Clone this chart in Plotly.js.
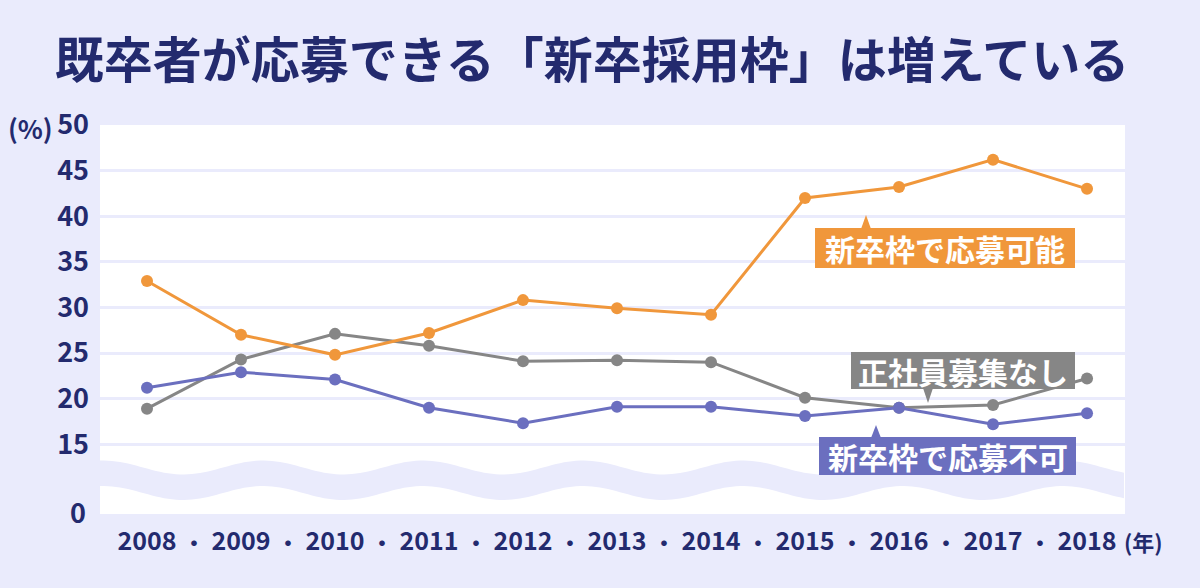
<!DOCTYPE html>
<html>
<head>
<meta charset="utf-8">
<script src="https://cdn.plot.ly/plotly-3.0.1.min.js"></script>
<style>
  html, body { margin: 0; padding: 0; background: #eaebfc; }
  #chart { width: 1200px; height: 588px; }
</style>
</head>
<body>
<div id="chart"></div>
<script>
// Survey years
const years = [2008, 2009, 2010, 2011, 2012, 2013, 2014, 2015, 2016, 2017, 2018];
const yearLabels = ['2008', '2009', '2010', '2011', '2012', '2013', '2014', '2015', '2016', '2017', '2018'];

// Share of companies (%)
const canApplyNewGrad = [32.9, 27.0, 24.8, 27.2, 30.8, 29.9, 29.2, 42.0, 43.2, 46.2, 43.0];   // 新卒枠で応募可能
const noRegularHiring = [18.9, 24.3, 27.1, 25.8, 24.1, 24.2, 24.0, 20.1, 19.0, 19.3, 22.2];   // 正社員募集なし
const cannotApplyNewGrad = [21.2, 22.9, 22.1, 19.0, 17.3, 19.1, 19.1, 18.1, 19.0, 17.2, 18.4]; // 新卒枠で応募不可

// Y axis ticks (the axis is broken between 0 and 15)
const yTicks = [15, 20, 25, 30, 35, 40, 45, 50];
const yTickText = ['15', '20', '25', '30', '35', '40', '45', '50'];

const seriesNames = ['新卒枠で応募可能', '正社員募集なし', '新卒枠で応募不可'];

const NAVY = '#232a6e';
const BG = '#eaebfc';
const ORANGE = '#f0973b';
const GRAY = '#868686';
const BLUE = '#6b6fbf';
const FONT = '"Noto Sans CJK JP", "Noto Sans", sans-serif';

// Plot box in page pixels
const M = { l: 100, r: 75, t: 125, b: 74 };
const W = 1200, H = 588;
const PW = W - M.l - M.r, PH = H - M.t - M.b;
const px = x => (x - M.l) / PW;            // page x -> paper x
const py = y => (H - M.b - y) / PH;        // page y -> paper y

function lineTrace(y, color, name) {
  return {
    x: years, y: y, name: name, type: 'scatter', mode: 'lines+markers',
    line: { color: color, width: 3 },
    marker: { color: color, size: 12 },
    hoverinfo: 'x+y+name'
  };
}

const data = [
  lineTrace(noRegularHiring, GRAY, seriesNames[1]),
  lineTrace(cannotApplyNewGrad, BLUE, seriesNames[2]),
  lineTrace(canApplyNewGrad, ORANGE, seriesNames[0])
];

// Wavy band marking the axis break
function wavePath() {
  const x0 = M.l, x1 = W - M.r, period = 160, phase = 103;
  const top = [], bot = [];
  for (let x = x0; x <= x1; x += 4) {
    const c = Math.cos(2 * Math.PI * (x - phase) / period);
    top.push([x, 467.5 - 7 * c]);
    bot.push([x, 493 - 7 * c]);
  }
  let d = 'M' + px(top[0][0]) + ',' + py(top[0][1]);
  top.slice(1).forEach(p => { d += ' L' + px(p[0]) + ',' + py(p[1]); });
  bot.reverse().forEach(p => { d += ' L' + px(p[0]) + ',' + py(p[1]); });
  return d + ' Z';
}

function rectShape(x0, y0, x1, y1, color) {
  return { type: 'rect', xref: 'paper', yref: 'paper', layer: 'above',
    x0: px(x0), x1: px(x1), y0: py(y1), y1: py(y0),
    fillcolor: color, line: { width: 0 } };
}
function triShape(tipX, tipY, baseY, half, color) {
  const d = 'M' + px(tipX - half) + ',' + py(baseY) +
            ' L' + px(tipX + half) + ',' + py(baseY) +
            ' L' + px(tipX) + ',' + py(tipY) + ' Z';
  return { type: 'path', xref: 'paper', yref: 'paper', layer: 'above',
    path: d, fillcolor: color, line: { width: 0 } };
}

const shapes = [
  { type: 'path', xref: 'paper', yref: 'paper', layer: 'below',
    path: wavePath(), fillcolor: BG, line: { width: 0 } },
  rectShape(815, 228, 1075, 268, ORANGE),
  triShape(866, 215, 229, 5, ORANGE),
  rectShape(851, 352, 1075, 389, GRAY),
  triShape(928, 403, 388, 5, GRAY),
  rectShape(819, 437, 1076, 475, BLUE),
  triShape(876, 425, 438, 5, BLUE)
];

function labelAnn(text, cx, cy) {
  return { text: text, xref: 'paper', yref: 'paper', x: px(cx), y: py(cy),
    xanchor: 'center', yanchor: 'middle', showarrow: false,
    font: { family: FONT, size: 30, color: '#ffffff', weight: 'bold' } };
}

const annotations = [
  labelAnn(seriesNames[0], 945, 248),
  labelAnn(seriesNames[1], 963, 370.5),
  labelAnn(seriesNames[2], 947.5, 456),
  { text: '(%)', xref: 'paper', yref: 'paper', x: px(30), y: py(127),
    xanchor: 'center', yanchor: 'middle', showarrow: false,
    font: { family: FONT, size: 26, color: NAVY, weight: 'bold' } },
  { text: '0', xref: 'paper', yref: 'paper', x: px(88), y: py(511),
    xanchor: 'right', yanchor: 'middle', showarrow: false,
    font: { family: FONT, size: 27, color: NAVY, weight: 'bold' } },
  { text: '(年)', xref: 'paper', yref: 'paper', x: px(1122), y: py(541),
    xanchor: 'left', yanchor: 'middle', showarrow: false,
    font: { family: FONT, size: 22, color: NAVY, weight: 'bold' } }
];
// Separator dots between year labels
for (let i = 0; i < years.length - 1; i++) {
  annotations.push({ text: '・', xref: 'x', yref: 'paper',
    x: (years[i] + years[i + 1]) / 2, y: py(541),
    xanchor: 'center', yanchor: 'middle', showarrow: false,
    font: { family: FONT, size: 22, color: NAVY, weight: 'bold' } });
}

const layout = {
  width: W, height: H,
  margin: M,
  paper_bgcolor: BG,
  plot_bgcolor: '#ffffff',
  showlegend: false,
  title: {
    text: '既卒者が応募できる「新卒採用枠」は増えている',
    xref: 'paper', x: px(592), xanchor: 'center',
    yref: 'container', y: 1 - 61 / H, yanchor: 'middle',
    font: { family: FONT, size: 49, color: NAVY, weight: 'bold' }
  },
  xaxis: {
    type: 'linear', range: [2007.5, 2018.404],
    tickvals: years, ticktext: yearLabels,
    showgrid: false, zeroline: false, showline: false, ticks: '',
    ticklabelstandoff: 10,
    tickfont: { family: FONT, size: 25, color: NAVY, weight: 'bold' },
    fixedrange: true
  },
  yaxis: {
    range: [7.35, 50],
    tickvals: yTicks, ticktext: yTickText,
    showgrid: true, gridcolor: BG, gridwidth: 3,
    zeroline: false, showline: false, ticks: '',
    ticklabelstandoff: 10,
    tickfont: { family: FONT, size: 27, color: NAVY, weight: 'bold' },
    fixedrange: true
  },
  shapes: shapes,
  annotations: annotations
};

Plotly.newPlot('chart', data, layout, { displayModeBar: false, staticPlot: false });
</script>
</body>
</html>
